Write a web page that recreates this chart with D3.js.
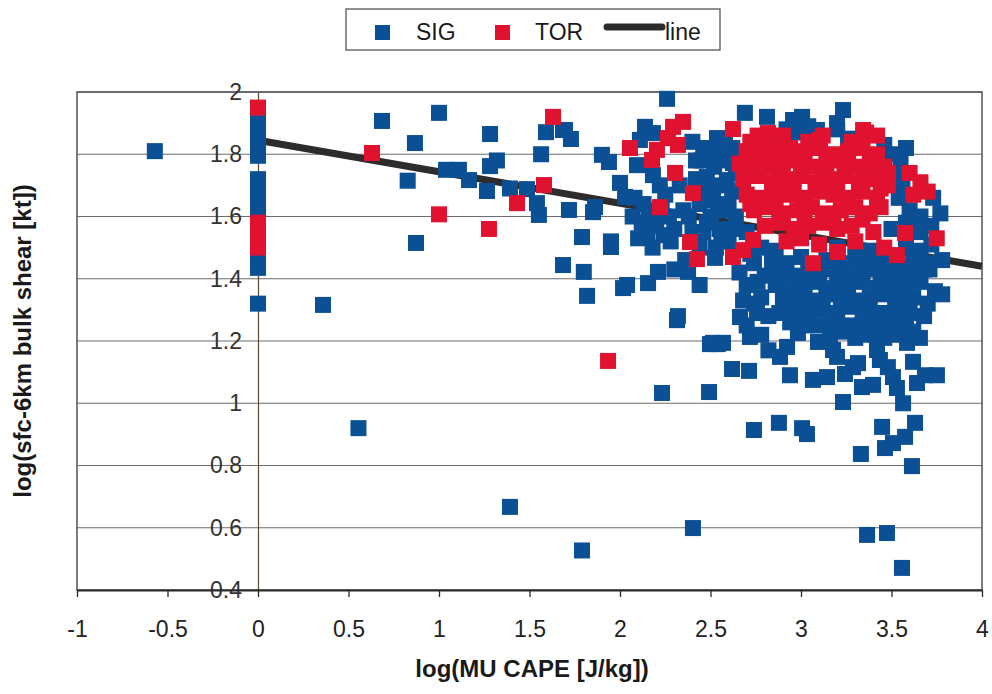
<!DOCTYPE html>
<html>
<head>
<meta charset="utf-8">
<script src="https://cdn.jsdelivr.net/npm/d3@7"></script>
<style>
  body { margin: 0; background: #fff; }
  svg text { font-family: "Liberation Sans", Arial, sans-serif; fill: #1a1a1a; }
</style>
</head>
<body>
<div id="chart"></div>
<script>
// tick values / labels
var xTicks = [-1, -0.5, 0, 0.5, 1, 1.5, 2, 2.5, 3, 3.5, 4];
var yTicks = [0.4, 0.6, 0.8, 1, 1.2, 1.4, 1.6, 1.8, 2];

// regression line end points [x, y]
var lineData = [[0, 1.845], [4, 1.44]];

// SIG points [log CAPE, log shear]
var sig = [
  [-0.57,1.81],
  [0,1.90],[0,1.885],[0,1.87],[0,1.855],[0,1.84],[0,1.825],[0,1.81],[0,1.795],
  [0,1.72],[0,1.70],[0,1.68],[0,1.66],[0,1.64],[0,1.62],[0,1.455],[0,1.435],[0,1.32],
  [0.359,1.316],[0.555,0.92],[0.685,1.907],[0.867,1.836],[0.827,1.715],[0.873,1.515],
  [1.0,1.933],[1.039,1.75],[1.11,1.75],[1.166,1.717],[1.282,1.865],[1.282,1.762],[1.32,1.78],
  [1.265,1.682],[1.392,1.69],[1.486,1.688],[1.541,1.643],[1.552,1.605],[1.591,1.871],
  [1.685,1.878],[1.729,1.849],[1.564,1.80],[1.718,1.621],[1.862,1.63],[1.851,1.614],
  [1.79,1.534],[1.685,1.444],[1.80,1.422],[1.818,1.345],[1.95,1.502],[1.95,1.52],
  [1.90,1.798],[1.939,1.775],[2.0,1.708],[2.028,1.663],[2.039,1.38],[1.392,0.667],
  [1.79,0.527],[2.403,0.599],[2.232,1.033],[2.492,1.036],[2.315,1.267],[2.54,1.19],
  [2.497,1.19],[2.619,1.11],[2.713,1.104],[2.74,0.914],[2.878,0.937],[3.006,0.92],
  [3.033,0.901],[3.232,1.004],[3.331,0.837],[3.448,0.924],[3.464,0.856],[3.508,0.872],
  [3.575,0.892],[3.63,0.937],[3.613,0.798],[3.365,0.577],[3.475,0.583],[3.558,0.471],
  [2.663,1.277],[2.757,1.29],[2.718,1.213],[2.884,1.149],[2.923,1.181],[2.939,1.09],
  [3.066,1.075],[3.144,1.084],[3.243,1.094],[3.094,1.197],[3.177,1.171],[3.199,1.149],
  [2.983,1.226],[3.337,1.052],[3.398,1.059],[3.287,1.116],[3.315,1.129],[3.53,1.049],
  [3.564,1.0],[3.619,1.133],[3.641,1.065],[3.685,1.09],[3.751,1.09],[3.586,1.194],
  [3.657,1.21],[3.42,1.171],[3.436,1.139],[3.48,1.116],[3.508,1.084],
  [2.26,1.978],[1.696,1.878],[2.138,1.888],[2.182,1.868],[2.11,1.846],[2.094,1.765],
  [2.182,1.733],[2.017,1.37],[2.155,1.386],[2.21,1.422],[2.376,1.422],[2.514,1.194],
  [2.569,1.194],[2.525,1.467],
  [2.08,1.66],[2.13,1.64],[2.19,1.62],[2.25,1.67],[2.12,1.58],[2.2,1.57],[2.27,1.6],
  [2.1,1.53],[2.18,1.5],[2.24,1.54],[2.3,1.56],[2.07,1.6],[2.35,1.62],[2.33,1.7],
  [2.16,1.6],[2.23,1.63],[2.15,1.54],[2.28,1.52],[2.22,1.7],
  [2.69,1.933],[2.812,1.92],[2.956,1.91],[3.006,1.92],[3.232,1.942],[3.088,1.878],
  [3.199,1.9],[2.536,1.852],[2.497,1.804],[2.48,1.727],[2.514,1.653],[2.624,1.772],
  [2.59,1.717],
  [2.4,1.84],[2.45,1.78],[2.42,1.72],[2.38,1.6],[2.44,1.64],[2.5,1.6],[2.55,1.56],
  [2.46,1.55],[2.6,1.52],[2.53,1.5],[2.58,1.62],[2.62,1.68],[2.48,1.69],[2.4,1.55],
  [2.46,1.82],[2.52,1.76],[2.56,1.7],[2.6,1.64],[2.54,1.62],[2.48,1.58],[2.56,1.52],
  [2.64,1.6],[2.64,1.74],[2.58,1.84],[2.42,1.78],[2.44,1.5],[2.52,1.8],[2.56,1.78],
  [2.62,1.56],[2.7,1.55],[3.5,1.56],[3.58,1.58],[3.66,1.55],
  [2.78,1.5],[2.86,1.49],[3.2,1.5],[3.38,1.49],[3.58,1.5],[3.66,1.49],[3.72,1.51],
  [2.84,1.46],[2.92,1.45],[3.0,1.47],[3.14,1.46],[3.22,1.45],[3.3,1.47],[3.38,1.45],
  [3.46,1.46],[3.54,1.44],[3.62,1.46],[3.7,1.45],
  [2.88,1.42],[2.96,1.41],[3.04,1.42],[3.12,1.43],[3.2,1.41],[3.28,1.42],[3.36,1.43],
  [3.44,1.41],[3.52,1.42],[3.6,1.41],[3.68,1.43],
  [2.86,1.38],[2.94,1.37],[3.02,1.38],[3.1,1.39],[3.18,1.37],[3.26,1.38],[3.34,1.39],
  [3.42,1.37],[3.5,1.38],[3.58,1.37],[3.66,1.39],[3.74,1.36],
  [2.9,1.33],[2.98,1.34],[3.06,1.33],[3.14,1.35],[3.22,1.34],[3.3,1.33],[3.38,1.34],
  [3.46,1.35],[3.54,1.33],[3.62,1.34],[3.7,1.32],
  [2.88,1.29],[2.96,1.3],[3.04,1.29],[3.12,1.3],[3.2,1.29],[3.28,1.31],[3.36,1.3],[3.44,1.29],
  [3.52,1.3],[3.6,1.29],[3.68,1.28],
  [2.94,1.26],[3.02,1.25],[3.1,1.25],[3.18,1.27],[3.26,1.25],[3.34,1.26],[3.42,1.25],[3.5,1.26],[3.58,1.25],
  [3.16,1.22],[3.24,1.23],[3.3,1.21],[3.38,1.22],[3.46,1.21],[3.54,1.22],[3.62,1.23],
  [3.5,1.8],[3.55,1.79],[3.52,1.74],[3.58,1.82],[3.6,1.62],[3.66,1.6],[3.73,1.66],
  [3.77,1.61],[3.78,1.46],[3.71,1.43],[3.78,1.35],[3.72,1.57],[3.54,1.66],[3.56,1.7],
  [2.92,1.88],[2.98,1.87],[3.04,1.89],[3.2,1.88],[3.26,1.85],[3.46,1.83],[2.62,1.82],[2.58,1.79],
  [2.7,1.25],[2.74,1.32],[2.78,1.22],[2.82,1.17],[2.66,1.42],[2.7,1.38],[2.74,1.45],
  [2.78,1.34],[2.68,1.33],[2.72,1.48],[2.3,1.43],[2.36,1.46],[2.44,1.38],[2.32,1.28],
  [2.8,1.41],[2.82,1.28],[2.76,1.39]
];

// TOR points
var tor = [
  [0,1.95],[0,1.58],[0,1.56],[0,1.54],[0,1.52],[0,1.50],
  [0.63,1.804],[1.0,1.607],[1.276,1.56],[1.431,1.643],[1.58,1.701],[1.63,1.92],
  [1.934,1.136],[2.055,1.82],[2.293,1.888],[2.348,1.904],[2.32,1.83],[2.265,1.852],
  [2.204,1.814],[2.177,1.782],[2.304,1.74],[2.403,1.675],[2.221,1.63],[2.387,1.518],
  [2.425,1.463],
  [2.624,1.881],[2.818,1.868],[3.105,1.846],[3.343,1.878],[3.309,1.823],[3.6,1.74],
  [3.66,1.71],[3.7,1.68],[3.62,1.67],[3.75,1.53],[3.575,1.547],[3.53,1.476],[3.066,1.45],
  [3.204,1.486],[2.68,1.492],[2.624,1.47],[2.735,1.525],
  [2.76,1.86],[2.84,1.85],[2.9,1.86],[3.12,1.86],[3.36,1.87],[3.42,1.86],
  [2.7,1.81],[2.78,1.82],[2.86,1.81],[2.94,1.82],[3.02,1.81],[3.1,1.82],[3.18,1.8],
  [3.26,1.81],[3.34,1.82],[3.42,1.8],
  [2.66,1.77],[2.74,1.78],[2.82,1.76],[2.9,1.77],[2.98,1.78],[3.06,1.76],[3.14,1.77],
  [3.22,1.78],[3.3,1.76],[3.38,1.77],[3.46,1.76],
  [2.68,1.72],[2.76,1.73],[2.84,1.71],[2.92,1.72],[3.0,1.73],[3.08,1.71],[3.16,1.72],
  [3.24,1.73],[3.32,1.71],[3.4,1.72],[3.48,1.7],
  [2.7,1.67],[2.78,1.66],[2.86,1.68],[2.94,1.67],[3.02,1.66],[3.1,1.68],[3.18,1.67],
  [3.26,1.66],[3.34,1.68],[3.42,1.66],
  [2.74,1.62],[2.82,1.63],[2.9,1.61],[2.98,1.62],[3.06,1.63],[3.14,1.61],[3.22,1.62],
  [3.3,1.63],[3.38,1.61],
  [2.8,1.57],[2.88,1.58],[2.96,1.56],[3.04,1.57],[3.12,1.58],[3.2,1.56],[3.28,1.57],[3.4,1.55],
  [2.92,1.52],[3.0,1.53],[3.1,1.51],[3.3,1.52],[3.46,1.5],
  [2.72,1.84],[2.8,1.79],[2.88,1.74],[2.96,1.69],[3.04,1.84],[3.12,1.74],[3.2,1.69],
  [3.28,1.84],[3.36,1.74],[3.44,1.69],[2.86,1.64],[3.02,1.6],[3.18,1.59],[3.34,1.59],
  [2.7,1.75],[2.72,1.64],[3.44,1.63],[3.48,1.74]
];

var blue = "#0b4f94", red = "#e0122f";

var width = 992, height = 694;
var margin = { top: 92, right: 10, bottom: 104, left: 77 };
var innerW = 982 - margin.left, innerH = 590 - margin.top;

var fmt = function(d) { return d3.format("~g")(d).replace("\u2212", "-"); };

var svg = d3.select("#chart").append("svg")
  .attr("width", width)
  .attr("height", height);

var x = d3.scaleLinear().domain([-1, 4]).range([margin.left, margin.left + innerW]);
var y = d3.scaleLinear().domain([0.4, 2]).range([margin.top + innerH, margin.top]);

// gridlines
svg.append("g")
  .selectAll("line")
  .data(yTicks.filter(function(d) { return d > 0.4; }))
  .enter().append("line")
  .attr("x1", x(-1)).attr("x2", x(4))
  .attr("y1", function(d) { return y(d); })
  .attr("y2", function(d) { return y(d); })
  .style("stroke", "#6e6a6e")
  .style("stroke-width", 1.2);

// plot frame
svg.append("rect")
  .attr("x", x(-1)).attr("y", y(2))
  .attr("width", x(4) - x(-1)).attr("height", y(0.4) - y(2))
  .style("fill", "none")
  .style("stroke", "#55505a")
  .style("stroke-width", 1.5);

// y axis at x = 0
var yAxis = d3.axisLeft(y)
  .tickValues(yTicks)
  .tickSize(0)
  .tickPadding(16)
  .tickFormat(fmt);

var gy = svg.append("g")
  .attr("transform", "translate(" + x(0) + ",0)")
  .call(yAxis);
gy.select(".domain").style("stroke", "#5a4a30").style("stroke-width", 1.2);
gy.selectAll("text")
  .style("font-size", "23px")
  .style("fill", "#333");

// x axis at y = 0.4
var xAxis = d3.axisBottom(x)
  .tickValues(xTicks)
  .tickSize(7)
  .tickSizeOuter(0)
  .tickPadding(24)
  .tickFormat(fmt);

var gx = svg.append("g")
  .attr("transform", "translate(0," + y(0.4) + ")")
  .call(xAxis);
gx.select(".domain").style("stroke", "#2a2a2a").style("stroke-width", 2.2);
gx.selectAll(".tick line").style("stroke", "#2a2a2a").style("stroke-width", 1.3);
gx.selectAll("text")
  .style("font-size", "23px")
  .style("fill", "#222");

// regression line (under the points)
svg.append("path")
  .datum(lineData)
  .attr("d", d3.line()
    .x(function(d) { return x(d[0]); })
    .y(function(d) { return y(d[1]); }))
  .style("fill", "none")
  .style("stroke", "#2e2b2c")
  .style("stroke-width", 7);

var size = 16;

svg.append("g")
  .selectAll("rect")
  .data(sig)
  .enter().append("rect")
  .attr("x", function(d) { return x(d[0]) - size / 2; })
  .attr("y", function(d) { return y(d[1]) - size / 2; })
  .attr("width", size).attr("height", size)
  .style("fill", blue);

svg.append("g")
  .selectAll("rect")
  .data(tor)
  .enter().append("rect")
  .attr("x", function(d) { return x(d[0]) - size / 2; })
  .attr("y", function(d) { return y(d[1]) - size / 2; })
  .attr("width", size).attr("height", size)
  .style("fill", red);

// axis titles
svg.append("text")
  .attr("x", 532).attr("y", 677)
  .attr("text-anchor", "middle")
  .style("font-size", "24px")
  .style("font-weight", "bold")
  .text("log(MU CAPE [J/kg])");

svg.append("text")
  .attr("transform", "translate(31,341) rotate(-90)")
  .attr("text-anchor", "middle")
  .style("font-size", "24px")
  .style("font-weight", "bold")
  .text("log(sfc-6km bulk shear [kt])");

// legend
var legend = svg.append("g");
legend.append("rect")
  .attr("x", 346).attr("y", 9)
  .attr("width", 374).attr("height", 41)
  .style("fill", "#fff")
  .style("stroke", "#555")
  .style("stroke-width", 1.3);
legend.append("rect")
  .attr("x", 375).attr("y", 25).attr("width", 15).attr("height", 15)
  .style("fill", blue);
legend.append("text")
  .attr("x", 416).attr("y", 40)
  .style("font-size", "23px")
  .text("SIG");
legend.append("rect")
  .attr("x", 495).attr("y", 25).attr("width", 15).attr("height", 15)
  .style("fill", red);
legend.append("text")
  .attr("x", 535).attr("y", 40)
  .style("font-size", "23px")
  .text("TOR");
legend.append("line")
  .attr("x1", 607).attr("x2", 662)
  .attr("y1", 27).attr("y2", 27)
  .style("stroke", "#2e2b2c")
  .style("stroke-width", 7)
  .style("stroke-linecap", "round");
legend.append("text")
  .attr("x", 665).attr("y", 40)
  .style("font-size", "23px")
  .text("line");
</script>
</body>
</html>
